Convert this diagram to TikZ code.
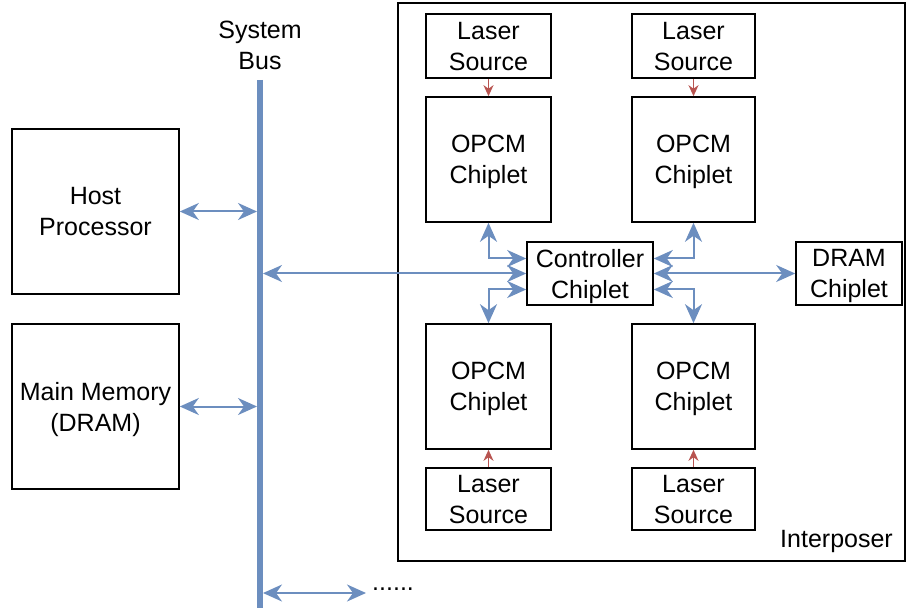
\documentclass[tikz,border=0pt]{standalone}
\usepackage{fontspec}
\setmainfont{Liberation Sans}
\usetikzlibrary{arrows.meta}
\definecolor{bl}{HTML}{6C8EBF}
\definecolor{rd}{HTML}{B85450}
\begin{document}
\begin{tikzpicture}[x=1pt,y=-1pt,
  font=\fontsize{25}{31}\selectfont,
  box/.style={draw=black, line width=1.6pt, inner sep=0pt, align=center, text depth=-1.5pt},
  ba/.style={draw=bl, line width=2pt, {Stealth[length=19pt,width=17pt,inset=6pt]}-{Stealth[length=19pt,width=17pt,inset=6pt]}},
  ra/.style={draw=rd, line width=1.6pt, -{Stealth[length=11pt,width=10pt,inset=3.5pt]}},
  lbl/.style={inner sep=0pt, align=center}]
\useasboundingbox (0,0) rectangle (908,612);
% interposer
\node[box, minimum width=507pt, minimum height=558pt] (inter) at (651.5,282) {};
\node[lbl, anchor=east] (interlbl) at (893,541) {Interposer};
% host side
\node[box, minimum width=167pt, minimum height=165pt] (host) at (95.5,211.5) {Host\\Processor};
\node[box, minimum width=167pt, minimum height=165pt] (mem) at (95.5,406.5) {Main Memory\\(DRAM)};
% bus
\coordinate (busTop) at (260,80);
\coordinate (busBot) at (260,608);
\draw[bl, line width=6pt] (busTop) -- (busBot);
\node[lbl] (buslbl) at (260,45) {System\\Bus};
\coordinate (busL) at (257,0);
\coordinate (busR) at (263,0);
% chiplets
\node[box, minimum width=125pt, minimum height=64pt] (lasTL) at (488.5,46) {Laser\\Source};
\node[box, minimum width=123pt, minimum height=64pt] (lasTR) at (693.5,46) {Laser\\Source};
\node[box, minimum width=125pt, minimum height=125pt] (opTL) at (488.5,159.5) {OPCM\\Chiplet};
\node[box, minimum width=123pt, minimum height=125pt] (opTR) at (693.5,159.5) {OPCM\\Chiplet};
\node[box, minimum width=125pt, minimum height=125pt] (opBL) at (488.5,386.5) {OPCM\\Chiplet};
\node[box, minimum width=123pt, minimum height=125pt] (opBR) at (693.5,386.5) {OPCM\\Chiplet};
\node[box, minimum width=125pt, minimum height=62pt] (lasBL) at (488.5,499) {Laser\\Source};
\node[box, minimum width=123pt, minimum height=62pt] (lasBR) at (693.5,499) {Laser\\Source};
\node[box, minimum width=126pt, minimum height=63pt] (ctrl) at (590,273.5) {Controller\\Chiplet};
\node[box, minimum width=106pt, minimum height=63pt] (dram) at (849,273.5) {DRAM\\Chiplet};
% controller ports
\coordinate (cWT) at ([yshift=15pt]ctrl.west);
\coordinate (cWB) at ([yshift=-16pt]ctrl.west);
\coordinate (cET) at ([yshift=15pt]ctrl.east);
\coordinate (cEB) at ([yshift=-16pt]ctrl.east);
% bus arrows
\draw[ba] (host.east) -- (host.east -| busL);
\draw[ba] (mem.east) -- (mem.east -| busL);
\draw[ba] (busR |- ctrl.west) -- (ctrl.west);
\coordinate (dotsend) at (366,593);
\draw[ba] (busR |- dotsend) -- (dotsend);
\node[lbl, anchor=west] (dots) at (372,589) {......};
% controller links
\draw[ba] (opTL.south) -- (opTL.south |- cWT) -- (cWT);
\draw[ba] (cWB) -- (opBL.north |- cWB) -- (opBL.north);
\draw[ba] (opTR.south) -- (opTR.south |- cET) -- (cET);
\draw[ba] (cEB) -- (opBR.north |- cEB) -- (opBR.north);
\draw[ba] (ctrl.east) -- (dram.west);
% lasers
\draw[ra] (lasTL.south) -- (opTL.north);
\draw[ra] (lasTR.south) -- (opTR.north);
\draw[ra] (lasBL.north) -- (opBL.south);
\draw[ra] (lasBR.north) -- (opBR.south);
\end{tikzpicture}
\end{document}
